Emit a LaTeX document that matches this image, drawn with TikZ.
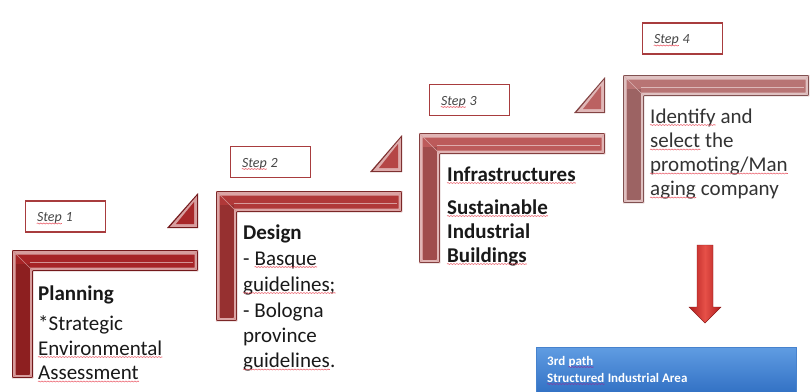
\documentclass[tikz,border=0pt]{standalone}
\usepackage{fontspec}
\setmainfont{Carlito}
\usetikzlibrary{calc,decorations.pathmorphing}

\definecolor{redA}{RGB}{166,36,38}
\definecolor{redB}{RGB}{176,56,56}
\definecolor{redC}{RGB}{188,90,90}
\definecolor{redD}{RGB}{184,116,116}
\definecolor{labframe}{RGB}{168,60,62}
\definecolor{labtext}{RGB}{70,70,70}
\definecolor{squig}{RGB}{236,100,112}
\definecolor{squigblue}{RGB}{130,60,160}
\definecolor{arrowdark}{RGB}{176,30,30}
\definecolor{arrowlight}{RGB}{230,80,72}
\definecolor{bluetop}{RGB}{96,156,226}
\definecolor{bluebot}{RGB}{40,104,190}
\definecolor{blueedge}{RGB}{70,130,205}

% bevelled L-shaped bracket: x0, y0, width, height, colour (bar thickness 21)
\newcommand\bevelL[5]{%
  \fill[#5!70!black] (#1,#2) -- ({#1+#3},#2) -- ({#1+#3},{#2+21}) -- ({#1+21},{#2+21})
        -- ({#1+21},{#2+#4}) -- (#1,{#2+#4}) -- cycle;
  \fill[#5!45!white] ({#1+1.2},{#2+1.2}) -- ({#1+#3-1.2},{#2+1.2}) -- ({#1+#3-1.2},{#2+19.8})
        -- ({#1+19.8},{#2+19.8}) -- ({#1+19.8},{#2+#4-1.2}) -- ({#1+1.2},{#2+#4-1.2}) -- cycle;
  \fill[#5] ({#1+3.5},{#2+4.5}) -- ({#1+#3-3.5},{#2+4.5}) -- ({#1+#3-3.5},{#2+17.5}) -- ({#1+17.5},{#2+17.5})
        -- ({#1+17.5},{#2+#4-3.5}) -- ({#1+3.5},{#2+#4-3.5}) -- cycle;
  \fill[#5!85!black] ({#1+3.5},{#2+14}) -- ({#1+17.5},{#2+14}) -- ({#1+17.5},{#2+#4-3.5}) -- ({#1+3.5},{#2+#4-3.5}) -- cycle;
  \draw[#5!50!white, line width=0.7pt] ({#1+17.5},{#2+12.5}) -- ({#1+#3-5},{#2+12.5});
  \draw[#5!55!white, line width=0.5pt] (#1,#2) -- ({#1+21},{#2+21});
  \draw[#5!55!white, line width=0.5pt] ({#1+#3},#2) -- ({#1+#3-3.5},{#2+4.5});
  \draw[#5!55!white, line width=0.5pt] ({#1+#3},{#2+21}) -- ({#1+#3-3.5},{#2+17.5});
  \draw[#5!55!white, line width=0.5pt] (#1,{#2+#4}) -- ({#1+3.5},{#2+#4-3.5});
  \draw[#5!55!white, line width=0.5pt] ({#1+21},{#2+#4}) -- ({#1+17.5},{#2+#4-3.5});
}

% bevelled right triangle: right x, top y, bottom y, width, colour
\newcommand\bevelT[5]{%
  \fill[#5!70!black] (#1,#2) -- (#1,#3) -- ({#1-#4},#3) -- cycle;
  \fill[#5!45!white] ({#1-1.2},{#2+3}) -- ({#1-1.2},{#3-1.2}) -- ({#1-#4+3},{#3-1.2}) -- cycle;
  \fill[#5] ({#1-4},{#2+9}) -- ({#1-4},{#3-4}) -- ({#1-#4+9},{#3-4}) -- cycle;
}

% wavy spell-check line under a word node
\newcommand\spellunder[2][squig]{%
  \draw[#1, line width=0.6pt, decorate, decoration={snake, amplitude=0.5pt, segment length=3pt}]
    ([yshift=-2pt]#2.base west) -- ([yshift=-2pt]#2.base east);}

\tikzset{
  labelbox/.style={draw=labframe, line width=1.4pt, fill=white, minimum width=80pt, minimum height=31pt},
  labword/.style={anchor=base west, inner sep=0pt, font=\fontsize{14}{16}\selectfont\itshape, text=labtext},
  body/.style={anchor=base west, inner sep=0pt, font=\fontsize{21}{25}\selectfont, text=black!90},
  bodyfour/.style={body, text=black!80},
  pathtext/.style={anchor=base west, inner sep=0pt, font=\fontsize{13}{15}\selectfont\bfseries, text=white},
}

\begin{document}
\begin{tikzpicture}[x=1pt, y=-1pt]
\useasboundingbox (0,0) rectangle (811,391);
\fill[white] (0,0) rectangle (811,391);

% ---- brackets and rising triangles ----
\bevelL{12}{250}{186}{128}{redA}
\bevelT{198}{193}{228}{31}{redA!85!redB}
\bevelL{216}{191}{186}{130}{redB}
\bevelT{402}{135}{172}{32}{redB!60!redC}
\bevelL{419}{133}{186}{130}{redC}
\bevelT{605}{77}{113}{31}{redC!70!redD}
\bevelL{623}{75}{186}{128}{redD}

% ---- step labels ----
\node[labelbox] (lab1) at (65.5,216.5) {};
\node[labelbox] (lab2) at (270.5,162) {};
\node[labelbox] (lab3) at (469.5,100) {};
\node[labelbox] (lab4) at (682.5,38.5) {};
\foreach \i in {1,...,4}{
  \node[labword] (lab\i w) at ([xshift=12pt,yshift=-5pt]lab\i.west) {Step};
  \node[labword] (lab\i n) at ([xshift=3.4pt]lab\i w.base east) {\i};
  \spellunder{lab\i w}
}

% ---- step 1 text ----
\node[body] (s1a) at (38,300) {\bfseries Planning};
\node[body] (s1b) at (38,330) {*Strategic};
\node[body] (s1c) at (38,355) {Environmental};
\node[body] (s1d) at (38,379.5) {Assessment};
\spellunder{s1c} \spellunder{s1d}

% ---- step 2 text ----
\node[body] (s2a) at (243,239) {\bfseries Design};
\node[body] (s2b) at (243,265) {-};
\node[body] (s2bw) at ([xshift=4.7pt]s2b.base east) {Basque};
\node[body] (s2c) at (243,291) {guidelines;};
\node[body] (s2d) at (243,317) {- Bologna};
\node[body] (s2e) at (243,342) {province};
\node[body] (s2f) at (243,367.5) {guidelines};
\node[body] (s2fp) at (s2f.base east) {.};
\spellunder{s2bw} \spellunder{s2c} \spellunder{s2f}

% ---- step 3 text ----
\node[body] (s3a) at (447,181) {\bfseries Infrastructures};
\node[body] (s3b) at (447,214) {\bfseries Sustainable};
\node[body] (s3c) at (447,238) {\bfseries Industrial};
\node[body] (s3d) at (447,262) {\bfseries Buildings};
\spellunder{s3a} \spellunder{s3b} \spellunder{s3d}

% ---- step 4 text ----
\node[bodyfour] (s4a) at (650,123) {Identify};
\node[bodyfour] (s4a2) at ([xshift=4.7pt]s4a.base east) {and};
\node[bodyfour] (s4b) at (650,147.5) {select};
\node[bodyfour] (s4b2) at ([xshift=4.7pt]s4b.base east) {the};
\node[bodyfour] (s4c) at (650,171.5) {promoting/Man};
\node[bodyfour] (s4d) at (650,195.5) {aging};
\node[bodyfour] (s4d2) at ([xshift=4.7pt]s4d.base east) {company};
\spellunder{s4a} \spellunder{s4b} \spellunder{s4c} \spellunder{s4d}

% ---- downward block arrow ----
\coordinate (arrtop) at (705,245);
\coordinate (arrtip) at (705,323);
\shade[left color=arrowdark, right color=arrowdark, middle color=arrowlight]
  (697,245) -- (713,245) -- (713,307) -- (721,307) -- (arrtip) -- (689,307) -- (697,307) -- cycle;
\draw[arrowdark!80!black, line width=0.4pt]
  (697,245) -- (713,245) -- (713,307) -- (721,307) -- (arrtip) -- (689,307) -- (697,307) -- cycle;

% ---- result bar ----
\node[anchor=north west, minimum width=260pt, minimum height=55pt, inner sep=0pt,
      draw=blueedge, line width=0.8pt, top color=bluetop, bottom color=bluebot] (bar) at (536,347) {};
\node[pathtext] (p1) at (547,365) {3rd};
\node[pathtext] (p1w) at ([xshift=3pt]p1.base east) {path};
\node[pathtext] (p2) at (547,382) {Structured};
\node[pathtext] (p2w) at ([xshift=3pt]p2.base east) {Industrial Area};
\spellunder[squigblue]{p1w} \spellunder[squigblue]{p2}
\end{tikzpicture}
\end{document}
